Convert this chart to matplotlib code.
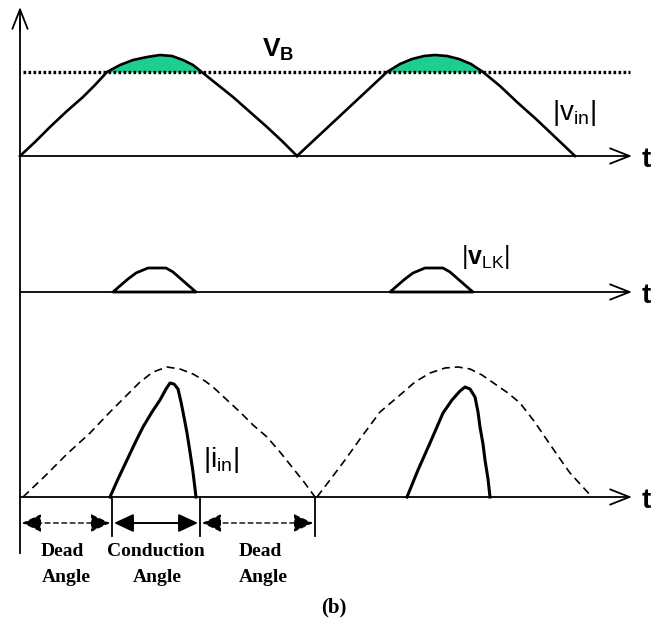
import numpy as np
import matplotlib.pyplot as plt

plt.rcParams['mathtext.fontset'] = 'custom'
plt.rcParams['mathtext.rm'] = 'Liberation Sans'
plt.rcParams['mathtext.it'] = 'Liberation Sans'
plt.rcParams['mathtext.bf'] = 'Liberation Sans:bold'

# |v_in| half cycles: time position and height above the axis
vin1_t = [20, 35, 50, 67, 83, 95, 107, 120, 133, 147, 160, 172, 183, 193, 203, 218, 233, 250, 267, 282, 297]
vin1_a = [0, 14, 29, 45, 59, 71, 84, 91, 96, 99, 101, 100, 96, 91, 83, 71, 59, 44, 29, 15, 0]
vin2_t = [297, 312, 327, 342, 357, 372, 387, 400, 412, 424, 435, 447, 459, 471, 483, 500, 518, 536, 555, 575]
vin2_a = [0, 14, 28, 42, 56, 70, 84, 92, 97, 100, 101, 100, 97, 92, 84, 70, 53, 37, 19, 0]
vb_level = 84

# |v_LK| pulses
vlk1_t = [113, 121, 128, 136, 148, 166, 173, 181, 189, 196]
vlk1_a = [0, 7, 13, 19, 24, 24, 20, 13, 6, 0]
vlk2_t = [390, 398, 405, 413, 425, 443, 450, 458, 466, 473]
vlk2_a = [0, 7, 13, 19, 24, 24, 20, 13, 6, 0]

# ideal sinusoidal reference current (dashed)
ref1_t = [23, 45, 67, 90, 110, 125, 140, 153, 167, 180, 193, 205, 213, 227, 240, 253, 267, 280, 292, 304, 315]
ref1_a = [0, 21, 43, 64, 85, 100, 115, 125, 130, 128, 123, 116, 110, 97, 85, 72, 60, 45, 30, 15, 0]
ref2_t = [317, 330, 345, 360, 380, 400, 415, 430, 445, 458, 470, 482, 495, 508, 520, 534, 547, 558, 570, 581, 592]
ref2_a = [0, 17, 37, 58, 85, 102, 115, 124, 129, 130, 128, 122, 113, 104, 94, 76, 57, 41, 24, 12, 0]

# |i_in| pulses
iin1_t = [110, 118, 127, 135, 143, 152, 160, 166, 170, 174, 178, 181, 184, 187, 190, 193, 196]
iin1_a = [0, 18, 37, 54, 70, 85, 97, 108, 114, 113, 108, 95, 80, 64, 45, 25, 0]
iin2_t = [407, 418, 430, 443, 452, 460, 465, 470, 475, 478, 480, 483, 485, 488, 490]
iin2_a = [0, 27, 54, 84, 97, 106, 110, 108, 100, 85, 70, 53, 37, 18, 0]

# angle boundaries on the bottom axis and their captions
angle_edges = [20, 112, 200, 315]
angle_names = [('Dead', 'Angle'), ('Conduction', 'Angle'), ('Dead', 'Angle')]
caption_x = [(62, 66), (156, 157), (260, 263)]

BASE_VIN, BASE_VLK, BASE_IIN = 156, 292, 497
X0, X1 = 20, 632

fig = plt.figure(figsize=(6.52, 6.26), dpi=100)
ax = fig.add_axes([0, 0, 1, 1])
ax.set_xlim(0, 652)
ax.set_ylim(626, 0)
ax.axis('off')

head = dict(arrowstyle='->,head_length=1.4,head_width=0.55', lw=1.3, color='black',
            shrinkA=0, shrinkB=0, mutation_scale=10)

# vertical axis
ax.plot([X0, X0], [553, 20], color='black', lw=1.3)
ax.annotate('', xy=(X0, 7), xytext=(X0, 30), arrowprops=head)

# time axes
for base in (BASE_VIN, BASE_VLK, BASE_IIN):
    ax.annotate('', xy=(X1, base), xytext=(X0, base), arrowprops=head)
    ax.text(642, base + 11, 't', fontsize=20, fontweight='bold',
            family='Liberation Sans', ha='left', va='baseline')

# top panel: rectified input voltage and V_B level
vb_y = BASE_VIN - vb_level
for t, a in ((vin1_t, vin1_a), (vin2_t, vin2_a)):
    t = np.array(t)
    a = np.array(a)
    ax.fill_between(t, BASE_VIN - a, vb_y, where=a >= vb_level, interpolate=True,
                    color='#1DCF8E', lw=0)
    ax.plot(t, BASE_VIN - a, color='black', lw=1.9, solid_joinstyle='round')
ax.plot([23, 630], [vb_y, vb_y], color='black', lw=2.4, dashes=(0.8, 0.7))
ax.text(262, 57, r'$\mathbf{V}_\mathbf{B}$', fontsize=19, ha='left', va='baseline')
ax.text(552, 120, r'$|\mathrm{v}_{\mathrm{in}}|$', fontsize=20, ha='left', va='baseline')

# middle panel: inductor voltage pulses
for t, a in ((vlk1_t, vlk1_a), (vlk2_t, vlk2_a)):
    ax.fill(t, BASE_VLK - np.array(a), fill=False, edgecolor='black', lw=2.0,
            joinstyle='round')
ax.text(461, 264, r'$|\mathbf{v}_{\mathrm{LK}}|$', fontsize=18, ha='left', va='baseline')

# bottom panel: input current against sinusoidal reference
for t, a in ((ref1_t, ref1_a), (ref2_t, ref2_a)):
    ax.plot(t, BASE_IIN - np.array(a), color='black', lw=1.2, dashes=(4.8, 3))
for t, a in ((iin1_t, iin1_a), (iin2_t, iin2_a)):
    ax.plot(t, BASE_IIN - np.array(a), color='black', lw=2.2, solid_joinstyle='round')
ax.text(203, 467, r'$|\mathrm{i}_{\mathrm{in}}|$', fontsize=20, ha='left', va='baseline')

# dead / conduction angle markers
for x in angle_edges[1:]:
    ax.plot([x, x], [BASE_IIN, 536], color='black', lw=1.3)
dbl = dict(arrowstyle='<|-|>,head_length=0.6,head_width=0.28', color='black',
           shrinkA=0, shrinkB=0, mutation_scale=20)
for i, (left, right) in enumerate(zip(angle_edges[:-1], angle_edges[1:])):
    ls = '-' if i == 1 else (0, (3.5, 2.5))
    lw = 1.4 if i == 1 else 1.0
    ax.annotate('', xy=(left + 2, 523), xytext=(right - 2, 523),
                arrowprops=dict(dbl, linestyle=ls, lw=lw))
    top, bottom = angle_names[i]
    x_top, x_bot = caption_x[i]
    ax.text(x_top, 552, top, fontsize=14, fontweight='bold', family='Liberation Serif',
            ha='center', va='center')
    ax.text(x_bot, 577, bottom, fontsize=14, fontweight='bold', family='Liberation Serif',
            ha='center', va='center')

ax.text(334, 607, '(b)', fontsize=15, fontweight='bold', family='Liberation Serif',
        ha='center', va='center')

fig.savefig('out.png', dpi=100)
